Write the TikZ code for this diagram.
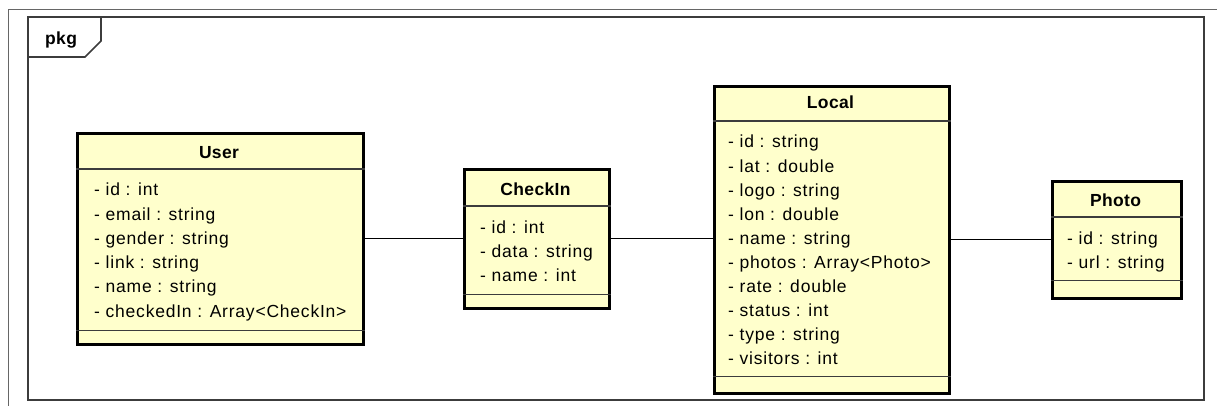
\documentclass[tikz,border=0pt]{standalone}
\usepackage{fontspec}
\setmainfont{Liberation Sans}
\newfontfamily\attrfont[LetterSpace=4.5]{Liberation Sans}
\newfontfamily\titlefont[LetterSpace=2.0]{Liberation Sans}
\definecolor{umlyellow}{RGB}{255,255,204}
\definecolor{framegray}{RGB}{60,60,60}
\tikzset{
  umlbox/.style={draw=black, line width=2.6pt, fill=umlyellow, rectangle, inner sep=0pt, anchor=north west},
  divider/.style={draw=framegray, line width=1.5pt},
  attr/.style={anchor=base west, inner sep=0pt, font=\attrfont\fontsize{17.5}{22}\selectfont},
  title/.style={anchor=base, inner sep=0pt, font=\titlefont\fontsize{17.5}{22}\selectfont\bfseries},
  assoc/.style={draw=black, line width=1.2pt},
  pkgframe/.style={draw=framegray, line width=1.6pt},
}
\begin{document}
\begin{tikzpicture}[x=1pt, y=-1pt]
\useasboundingbox (0,0) rectangle (1217,406);

% outer sheet border
\draw[gray!80!black, line width=1pt] (8,406) -- (8,10) -- (1217,10);

% package frame with its name tab
\draw[pkgframe] (28,17) rectangle (1204,400);
\draw[pkgframe] (28,57) -- (85,57) -- (101,41) -- (101,17);
\node[title, anchor=base west] (pkgname) at (45,45) {pkg};

% ---- User ----
\node[umlbox, minimum width=286pt, minimum height=211pt] (user) at (76,132) {};
\draw[divider] ([yshift=-37pt]user.north west) -- ([yshift=-37pt]user.north east);
\draw[divider] ([yshift=15pt]user.south west) -- ([yshift=15pt]user.south east);
\node[title] (user-title) at (219,159) {User};
\foreach \t [count=\i] in {- id : int, - email : string, - gender : string, - link : string, - name : string, - checkedIn : Array<CheckIn>}
  \node[attr] (user-attr-\i) at (94,{196+24.2*(\i-1)}) {\t};

% ---- CheckIn ----
\node[umlbox, minimum width=145pt, minimum height=139pt] (checkin) at (463,168) {};
\draw[divider] ([yshift=-38pt]checkin.north west) -- ([yshift=-38pt]checkin.north east);
\draw[divider] ([yshift=15pt]checkin.south west) -- ([yshift=15pt]checkin.south east);
\node[title] (checkin-title) at (535.5,195) {CheckIn};
\foreach \t [count=\i] in {- id : int, - data : string, - name : int}
  \node[attr] (checkin-attr-\i) at (480,{233+24.2*(\i-1)}) {\t};

% ---- Local ----
\node[umlbox, minimum width=235pt, minimum height=307pt] (local) at (713,85) {};
\draw[divider] ([yshift=-36pt]local.north west) -- ([yshift=-36pt]local.north east);
\draw[divider] ([yshift=18pt]local.south west) -- ([yshift=18pt]local.south east);
\node[title] (local-title) at (830.5,109) {Local};
\foreach \t [count=\i] in {- id : string, - lat : double, - logo : string, - lon : double, - name : string, - photos : Array<Photo>, - rate : double, - status : int, - type : string, - visitors : int}
  \node[attr] (local-attr-\i) at (728,{148+24.1*(\i-1)}) {\t};

% ---- Photo ----
\node[umlbox, minimum width=129pt, minimum height=117pt] (photo) at (1051,180) {};
\draw[divider] ([yshift=-37pt]photo.north west) -- ([yshift=-37pt]photo.north east);
\draw[divider] ([yshift=19pt]photo.south west) -- ([yshift=19pt]photo.south east);
\node[title] (photo-title) at (1115.5,207) {Photo};
\foreach \t [count=\i] in {- id : string, - url : string}
  \node[attr] (photo-attr-\i) at (1067,{244+24.2*(\i-1)}) {\t};

% associations (kept horizontal)
\draw[assoc] (user.east) -- (user.east -| checkin.west);
\draw[assoc] (checkin.east) -- (checkin.east -| local.west);
\draw[assoc] (local.east) -- (local.east -| photo.west);
\end{tikzpicture}
\end{document}
